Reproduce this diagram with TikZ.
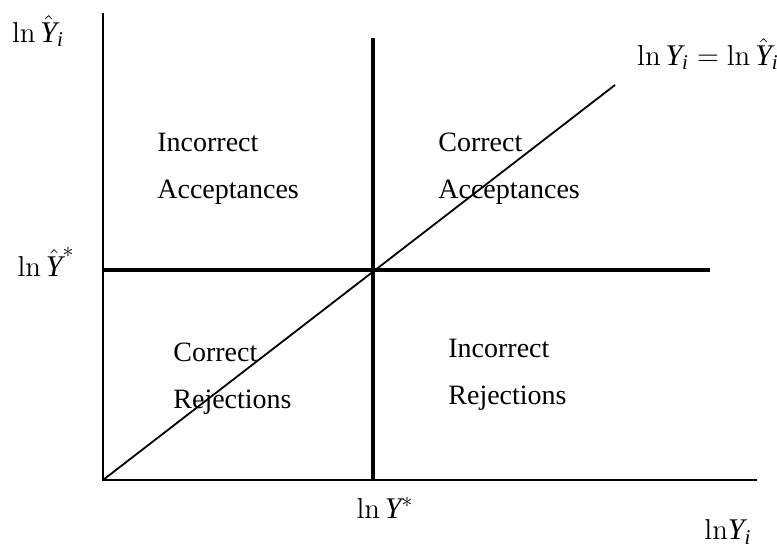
\documentclass[tikz,border=0pt]{standalone}
\usepackage{amsmath}
\usepackage[no-math]{fontspec}
\setmainfont{Liberation Serif}
\usetikzlibrary{positioning}
\newcommand{\iY}{\text{\itshape Y}}
\newcommand{\ii}{\text{\itshape i}}
\tikzset{
  axisline/.style={line width=1pt},
  splitline/.style={line width=2.3pt},
  region/.style={align=left,inner sep=0pt,anchor=north west,font=\fontsize{14}{23.5}\selectfont},
  lbl/.style={inner sep=0pt,font=\fontsize{15}{18}\selectfont}
}
\begin{document}
\begin{tikzpicture}[x=0.5pt,y=-0.5pt]
\useasboundingbox (0,0) rectangle (777,548);
% axes
\coordinate (O) at (103,480);
\coordinate (ytop) at (103,13);
\coordinate (xend) at (757,480);
\draw[axisline] (ytop) -- (O) -- (xend);
% thresholds
\coordinate (vtop) at (373,38);
\coordinate (vbot) at (373,480);
\coordinate (hleft) at (103,270);
\coordinate (hright) at (710,270);
\draw[splitline] (vtop) -- (vbot);
\draw[splitline] (hleft) -- (hright);
% 45 degree line
\coordinate (dend) at (615,85);
\draw[line width=0.9pt] (O) -- (dend);
% quadrant labels
\node[region] (incacc) at (157,133) {Incorrect\\Acceptances};
\node[region] (coracc) at (438,133) {Correct\\Acceptances};
\node[region] (correj) at (173,343) {Correct\\Rejections};
\node[region] (increj) at (448,339) {Incorrect\\Rejections};
% axis labels
\node[lbl] (yhat) at (38,31) {$\ln\hat{\iY}_{\ii}$};
\node[lbl] (ident) at (708,54) {$\ln \iY_{\ii}=\ln\hat{\iY}_{\ii}$};
\node[lbl] (ystarhat) at (46,262) {$\ln\hat{\iY}^{*}$};
\node[lbl] (ystar) at (385,508) {$\ln \iY^{*}$};
\node[lbl] (yi) at (728,532) {$\mathrm{ln}\iY_{\ii}$};
\end{tikzpicture}
\end{document}
